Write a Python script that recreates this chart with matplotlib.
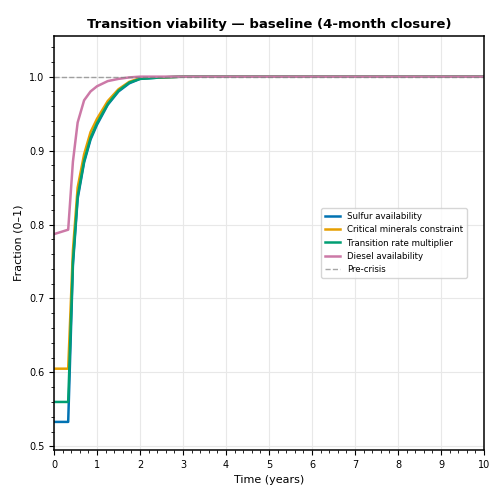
import matplotlib
matplotlib.use("Agg")
import matplotlib.pyplot as plt

t = [0, 0.33, 0.44, 0.55, 0.7, 0.85, 1.0, 1.25, 1.5, 1.75, 2.0, 2.5, 3.0, 10.0]
sulfur   = [0.533, 0.533, 0.745, 0.835, 0.884, 0.915, 0.935, 0.962, 0.980, 0.991, 0.997, 0.999, 1.0, 1.0]
minerals = [0.605, 0.605, 0.765, 0.850, 0.895, 0.925, 0.943, 0.967, 0.983, 0.993, 0.998, 0.999, 1.0, 1.0]
rate     = [0.560, 0.560, 0.750, 0.838, 0.886, 0.917, 0.937, 0.963, 0.981, 0.992, 0.997, 0.999, 1.0, 1.0]
diesel   = [0.787, 0.793, 0.885, 0.938, 0.968, 0.980, 0.987, 0.994, 0.997, 0.999, 1.0, 1.0, 1.0, 1.0]

fig, ax = plt.subplots(figsize=(5, 5), dpi=100)
ax.plot(t, sulfur, color="#0072B2", lw=1.8, label="Sulfur availability")
ax.plot(t, minerals, color="#E69F00", lw=1.8, label="Critical minerals constraint")
ax.plot(t, rate, color="#009E73", lw=1.8, label="Transition rate multiplier")
ax.plot(t, diesel, color="#CC79A7", lw=1.8, label="Diesel availability")
ax.axhline(1.0, color="gray", ls="--", lw=1, alpha=0.7, label="Pre-crisis")
ax.set_xlim(0, 10)
ax.set_ylim(0.495, 1.055)
ax.set_xticks(range(0, 11))
ax.set_yticks([0.5, 0.6, 0.7, 0.8, 0.9, 1.0])
ax.minorticks_on()
ax.tick_params(labelsize=7, direction="out")
for s in ax.spines.values():
    s.set_linewidth(1.1)
ax.grid(True, which="major", color="#e8e8e8", lw=0.8)
ax.set_xlabel("Time (years)", fontsize=8)
ax.set_ylabel("Fraction (0–1)", fontsize=8)
ax.set_title("Transition viability — baseline (4-month closure)", fontsize=9.5, fontweight="bold")
ax.legend(loc="center right", fontsize=6.2, bbox_to_anchor=(0.97, 0.5), handlelength=1.8)
fig.subplots_adjust(left=0.108, right=0.968, top=0.928, bottom=0.1)
fig.savefig("out.png")
